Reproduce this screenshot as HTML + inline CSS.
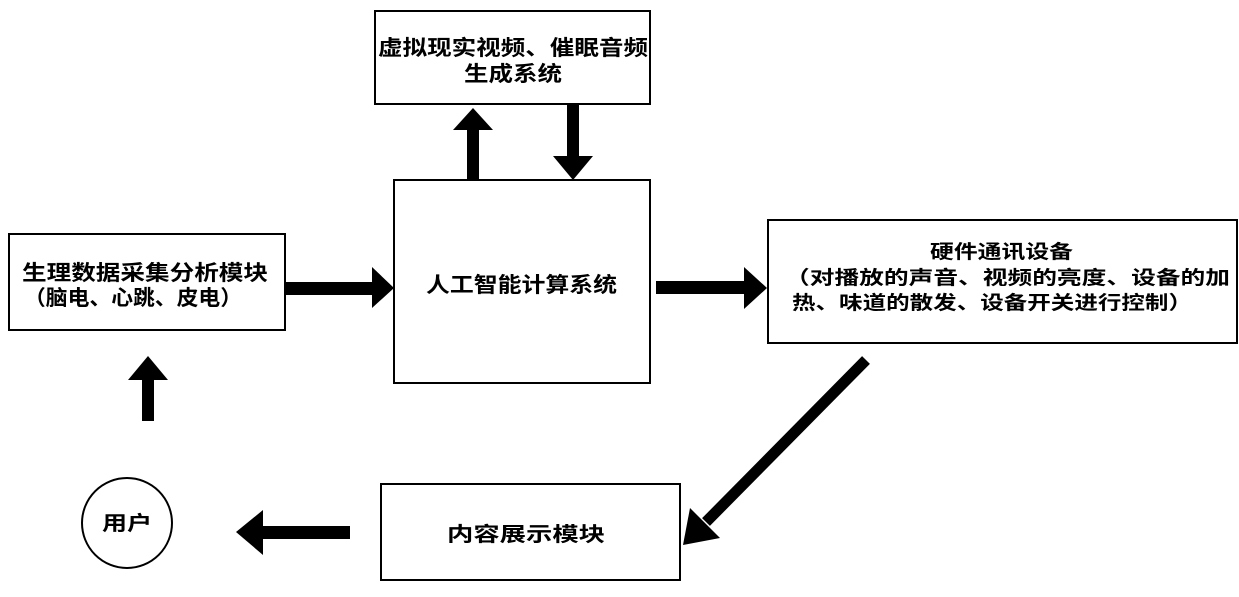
<!DOCTYPE html>
<html><head><meta charset="utf-8"><style>
body{margin:0;background:#fff;}
svg text{font-family:"Liberation Sans","Noto Sans CJK SC",sans-serif;font-weight:bold;fill:#000;}
</style></head><body>
<svg width="1239" height="592" viewBox="0 0 1239 592" xmlns="http://www.w3.org/2000/svg">
<g fill="#fff" stroke="#000" stroke-width="2">
<rect x="375" y="11" width="275" height="93"/>
<rect x="394" y="180" width="256" height="203"/>
<rect x="9" y="234" width="276" height="96"/>
<rect x="768" y="220" width="469" height="123"/>
<rect x="381" y="484" width="299" height="96"/>
<circle cx="127" cy="523" r="45"/>
</g>
<g fill="#000">
<text x="378" y="55" font-size="21" textLength="270" lengthAdjust="spacingAndGlyphs">虚拟现实视频、催眠音频</text>
<text x="464" y="81" font-size="21" textLength="98" lengthAdjust="spacingAndGlyphs">生成系统</text>
<text x="426" y="292" font-size="21" textLength="191" lengthAdjust="spacingAndGlyphs">人工智能计算系统</text>
<text x="22" y="280" font-size="21" textLength="246" lengthAdjust="spacingAndGlyphs">生理数据采集分析模块</text>
<text x="24" y="305" font-size="21" textLength="218" lengthAdjust="spacingAndGlyphs">（脑电、心跳、皮电）</text>
<text x="930" y="258" font-size="19" textLength="143" lengthAdjust="spacingAndGlyphs">硬件通讯设备</text>
<text x="785" y="284" font-size="19" textLength="445" lengthAdjust="spacingAndGlyphs">（对播放的声音、视频的亮度、设备的加</text>
<text x="792" y="309" font-size="19" textLength="400" lengthAdjust="spacingAndGlyphs">热、味道的散发、设备开关进行控制）</text>
<text x="447" y="541" font-size="20" textLength="158" lengthAdjust="spacingAndGlyphs">内容展示模块</text>
<text x="102" y="530" font-size="20" textLength="50" lengthAdjust="spacingAndGlyphs">用户</text>
<!-- arrows -->
<rect x="467" y="128" width="12" height="52"/><polygon points="453,130 493,130 473,108"/>
<rect x="567" y="104" width="12" height="56"/><polygon points="553,156 593,156 573,180"/>
<rect x="285" y="282" width="92" height="13"/><polygon points="372,267 372,308 394,288"/>
<rect x="656" y="281" width="90" height="13"/><polygon points="744,267 744,309 767,288"/>
<line x1="866" y1="360" x2="706" y2="522" stroke="#000" stroke-width="11"/>
<polygon points="683,545 720,538 690,508"/>
<rect x="262" y="526" width="88" height="13"/><polygon points="263,510 263,555 236,532"/>
<rect x="142" y="376" width="12" height="45"/><polygon points="128,380 168,380 148,356"/>
</g>
</svg>
</body></html>
